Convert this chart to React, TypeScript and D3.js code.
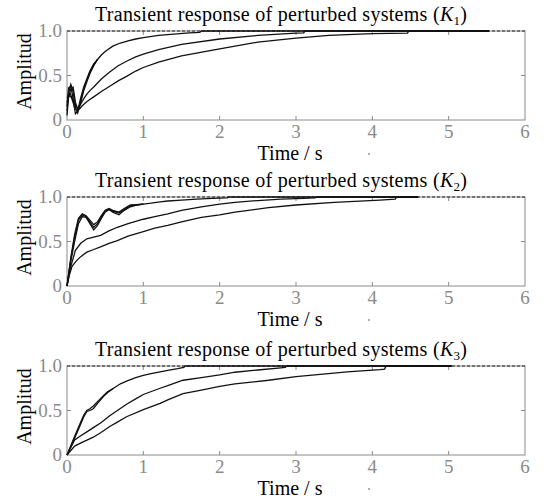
import React from "react";
import * as d3 from "d3";

// time axis ticks and amplitude ticks
const xTicks = [0, 1, 2, 3, 4, 5, 6];
const yTicks = [0, 0.5, 1.0];
const yTickLabels = ["0", "0.5", "1.0"];
const panelNames = ["1", "2", "3"];

// ---- K1 ----
const k1FastT = [0, 0.02, 0.05, 0.08, 0.11, 0.14, 0.18, 0.22, 0.26, 0.3, 0.35, 0.4, 0.45, 0.5, 0.6, 0.7, 0.8, 0.9, 1.0, 1.2, 1.4, 1.6, 1.74, 1.76, 5.53];
const k1FastV = [0.1, 0.3, 0.4, 0.32, 0.14, 0.08, 0.22, 0.36, 0.45, 0.54, 0.62, 0.68, 0.73, 0.77, 0.83, 0.865, 0.89, 0.91, 0.925, 0.95, 0.965, 0.978, 0.985, 1.0, 1.0];
const k1FastEarlyT = [0, 0.02, 0.05, 0.08, 0.11, 0.14, 0.18, 0.22, 0.26, 0.3, 0.35, 0.4];
const k1FastEarlyV1 = [0.15, 0.36, 0.38, 0.24, 0.07, 0.1, 0.25, 0.37, 0.46, 0.55, 0.63, 0.68];
const k1FastEarlyV2 = [0.05, 0.25, 0.35, 0.37, 0.2, 0.12, 0.2, 0.33, 0.43, 0.52, 0.61, 0.68];
const k1MidT = [0, 0.03, 0.06, 0.1, 0.14, 0.18, 0.22, 0.26, 0.3, 0.35, 0.45, 0.56, 0.67, 0.78, 0.9, 1.0, 1.2, 1.5, 2.0, 2.5, 3.0, 3.1, 3.12, 5.53];
const k1MidV = [0.2, 0.28, 0.25, 0.14, 0.1, 0.18, 0.24, 0.29, 0.33, 0.37, 0.46, 0.54, 0.61, 0.66, 0.71, 0.74, 0.79, 0.85, 0.91, 0.95, 0.975, 0.98, 1.0, 1.0];
const k1SlowT = [0, 0.04, 0.08, 0.12, 0.16, 0.2, 0.25, 0.3, 0.35, 0.45, 0.56, 0.67, 0.78, 0.9, 1.0, 1.2, 1.5, 2.0, 2.5, 3.0, 3.43, 4.0, 4.46, 4.48, 5.53];
const k1SlowV = [0.25, 0.3, 0.22, 0.15, 0.12, 0.16, 0.2, 0.23, 0.26, 0.32, 0.38, 0.44, 0.49, 0.55, 0.59, 0.65, 0.72, 0.8, 0.875, 0.92, 0.95, 0.97, 0.975, 1.0, 1.0];

// ---- K2 ----
const k2FastT = [0, 0.05, 0.1, 0.15, 0.2, 0.25, 0.3, 0.35, 0.4, 0.45, 0.5, 0.55, 0.6, 0.68, 0.75, 0.83, 0.9, 1.0, 1.1, 1.22, 1.32, 1.5, 1.7, 1.9, 2.1, 2.12, 4.6];
const k2FastV = [0, 0.3, 0.55, 0.74, 0.8, 0.78, 0.72, 0.66, 0.7, 0.78, 0.84, 0.86, 0.84, 0.82, 0.86, 0.9, 0.91, 0.92, 0.93, 0.945, 0.955, 0.965, 0.975, 0.985, 0.99, 1.0, 1.0];
const k2FastEarlyT = [0, 0.05, 0.1, 0.15, 0.2, 0.25, 0.3, 0.35, 0.4, 0.45, 0.5, 0.55, 0.6, 0.68, 0.75, 0.83, 0.9, 1.0];
const k2FastEarlyV1 = [0, 0.28, 0.5, 0.7, 0.78, 0.77, 0.7, 0.63, 0.68, 0.76, 0.83, 0.86, 0.83, 0.8, 0.85, 0.89, 0.905, 0.92];
const k2FastEarlyV2 = [0, 0.32, 0.58, 0.76, 0.81, 0.79, 0.74, 0.69, 0.72, 0.79, 0.85, 0.87, 0.85, 0.83, 0.87, 0.91, 0.915, 0.92];
const k2MidT = [0, 0.05, 0.11, 0.18, 0.26, 0.35, 0.44, 0.55, 0.66, 0.8, 1.0, 1.15, 1.32, 1.5, 1.76, 2.0, 2.2, 2.5, 2.8, 3.1, 3.25, 3.27, 4.6];
const k2MidV = [0, 0.22, 0.4, 0.48, 0.53, 0.55, 0.57, 0.62, 0.66, 0.7, 0.75, 0.78, 0.81, 0.85, 0.89, 0.92, 0.94, 0.96, 0.975, 0.985, 0.99, 1.0, 1.0];
const k2SlowT = [0, 0.03, 0.066, 0.12, 0.18, 0.26, 0.35, 0.44, 0.55, 0.66, 0.8, 1.0, 1.15, 1.32, 1.5, 1.76, 2.0, 2.2, 2.64, 3.0, 3.5, 4.1, 4.3, 4.32, 4.6];
const k2SlowV = [0, 0.12, 0.22, 0.28, 0.33, 0.38, 0.41, 0.44, 0.48, 0.51, 0.56, 0.61, 0.65, 0.68, 0.72, 0.77, 0.8, 0.83, 0.88, 0.91, 0.94, 0.966, 0.975, 1.0, 1.0];

// ---- K3 ----
const k3FastT = [0, 0.08, 0.17, 0.22, 0.26, 0.3, 0.345, 0.4, 0.48, 0.53, 0.61, 0.7, 0.78, 0.9, 1.0, 1.1, 1.22, 1.32, 1.45, 1.53, 1.55, 5.04];
const k3FastV = [0, 0.15, 0.33, 0.43, 0.49, 0.5, 0.52, 0.58, 0.66, 0.7, 0.75, 0.8, 0.83, 0.87, 0.895, 0.915, 0.935, 0.95, 0.97, 0.985, 1.0, 1.0];
const k3FastEarlyT = [0, 0.08, 0.17, 0.22, 0.26, 0.3, 0.345, 0.4, 0.48, 0.53, 0.61];
const k3FastEarlyV1 = [0, 0.17, 0.35, 0.45, 0.5, 0.52, 0.55, 0.6, 0.67, 0.71, 0.75];
const k3MidT = [0, 0.1, 0.17, 0.26, 0.35, 0.44, 0.56, 0.66, 0.78, 0.9, 1.0, 1.22, 1.32, 1.52, 1.76, 2.0, 2.2, 2.5, 2.8, 2.86, 2.88, 5.04];
const k3MidV = [0, 0.17, 0.21, 0.26, 0.31, 0.36, 0.44, 0.5, 0.57, 0.63, 0.68, 0.75, 0.78, 0.84, 0.87, 0.9, 0.93, 0.955, 0.98, 0.985, 1.0, 1.0];
const k3SlowT = [0, 0.1, 0.17, 0.345, 0.44, 0.56, 0.66, 0.78, 1.0, 1.22, 1.32, 1.52, 1.76, 2.0, 2.2, 2.64, 3.0, 3.67, 4.1, 4.16, 4.18, 5.04];
const k3SlowV = [0, 0.1, 0.13, 0.2, 0.25, 0.32, 0.37, 0.43, 0.51, 0.58, 0.62, 0.69, 0.73, 0.77, 0.8, 0.84, 0.88, 0.935, 0.96, 0.965, 1.0, 1.0];

const zip = (t: number[], v: number[]) => t.map((d, i) => [d, v[i]] as [number, number]);

const panelSeries = [
  [zip(k1FastT, k1FastV), zip(k1FastEarlyT, k1FastEarlyV1), zip(k1FastEarlyT, k1FastEarlyV2), zip(k1MidT, k1MidV), zip(k1SlowT, k1SlowV)],
  [zip(k2FastT, k2FastV), zip(k2FastEarlyT, k2FastEarlyV1), zip(k2FastEarlyT, k2FastEarlyV2), zip(k2MidT, k2MidV), zip(k2SlowT, k2SlowV)],
  [zip(k3FastT, k3FastV), zip(k3FastEarlyT, k3FastEarlyV1), zip(k3MidT, k3MidV), zip(k3SlowT, k3SlowV)],
];

const panelTops = [31, 197, 366];
const plotH = 89;
const left = 67;
const right = 525;
const font = "Liberation Serif, Times New Roman, serif";
const grey = "#8a8a8a";

const Panel = ({ top, series, sub }: { top: number; series: [number, number][][]; sub: string }) => {
  const x = d3.scaleLinear().domain([0, 6]).range([left, right]);
  const y = d3.scaleLinear().domain([0, 1]).range([top + plotH, top]);
  const line = d3
    .line<[number, number]>()
    .x(d => x(d[0]))
    .y(d => y(d[1]));

  return (
    <g>
      <text x={281} y={top - 10} fontFamily={font} fontSize={20} textAnchor="middle" textLength={372} lengthAdjust="spacing">
        Transient response of perturbed systems (<tspan fontStyle="italic">K</tspan>
        <tspan fontSize={13} dy={4}>{sub}</tspan>
        <tspan dy={-4}>)</tspan>
      </text>
      <rect x={left} y={top} width={right - left} height={plotH} fill="none" stroke={grey} strokeWidth={1} />
      {xTicks.slice(1, -1).map(t => (
        <g key={t}>
          <line x1={x(t)} x2={x(t)} y1={top + plotH} y2={top + plotH - 4} stroke={grey} />
          <line x1={x(t)} x2={x(t)} y1={top} y2={top + 4} stroke={grey} />
        </g>
      ))}
      <line x1={left} x2={left + 4} y1={y(0.5)} y2={y(0.5)} stroke={grey} />
      <line x1={right} x2={right - 4} y1={y(0.5)} y2={y(0.5)} stroke={grey} />
      {xTicks.map(t => (
        <text key={t} x={x(t)} y={top + plotH + 18} fontFamily={font} fontSize={19} fill={grey} textAnchor="middle">
          {t}
        </text>
      ))}
      {yTicks.map((t, i) => (
        <text key={t} x={left - 5} y={y(t) + 6} fontFamily={font} fontSize={19} fill={grey} textAnchor="end">
          {yTickLabels[i]}
        </text>
      ))}
      <line x1={x(0)} x2={x(6)} y1={y(1)} y2={y(1)} stroke="#222" strokeWidth={1} strokeDasharray="3,2" />
      {series.map((s, i) => (
        <path key={i} d={line(s) || ""} fill="none" stroke="#111" strokeWidth={1.3} />
      ))}
      <text transform={`translate(31, ${top + plotH / 2 - 4}) rotate(-90)`} fontFamily={font} fontSize={20} textAnchor="middle">
        Amplitud
      </text>
      <text x={290} y={top + plotH + 40} fontFamily={font} fontSize={20} textAnchor="middle">
        Time / s
      </text>
      <circle cx={369} cy={top + plotH + 34} r={0.9} fill={grey} />
    </g>
  );
};

export default function App() {
  return (
    <svg width={544} height={499} style={{ position: "absolute", left: 0, top: 0, background: "#fff" }}>
      {panelTops.map((top, i) => (
        <Panel key={i} top={top} series={panelSeries[i]} sub={panelNames[i]} />
      ))}
    </svg>
  );
}
